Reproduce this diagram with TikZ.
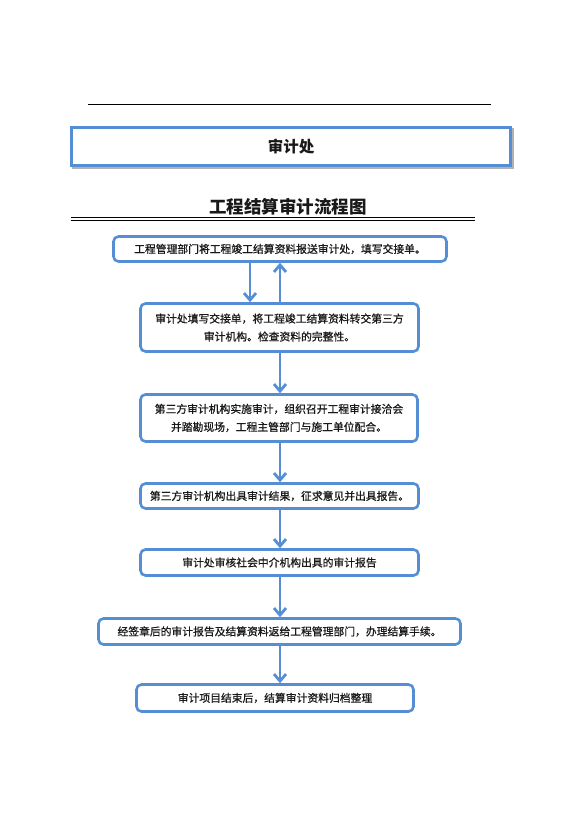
\documentclass[tikz,border=0pt]{standalone}
\usepackage{fontspec}
\newfontfamily\cjk{Noto Sans CJK SC}
\newfontfamily\cjkfb[FakeBold=0.8]{Noto Sans CJK SC}
\usetikzlibrary{arrows.meta}
\definecolor{boxblue}{RGB}{85,142,213}
\definecolor{txt}{RGB}{25,25,25}
\tikzset{
  flowbox/.style={draw=boxblue, line width=2.6pt, rounded corners=5pt, fill=white,
    inner sep=0pt, align=center, text=txt, font=\cjkfb\fontsize{10.8}{18}\selectfont},
  headbox/.style={draw=boxblue, line width=3pt, fill=white, inner sep=0pt,
    text=txt, font=\cjk\bfseries\fontsize{15.5}{18}\selectfont,
    preaction={draw=gray!60, line width=3pt, transform canvas={xshift=2pt,yshift=-2pt}}},
  arr/.style={draw=boxblue, line width=2.8pt, -{Straight Barb[length=7pt,width=12pt,line width=2.8pt]}},
  rule/.style={draw=black, line width=0.8pt}
}
\begin{document}
\begin{tikzpicture}[x=1pt,y=-1pt]
\useasboundingbox (0,0) rectangle (576,817);
% top rule
\coordinate (tl) at (88,104.3);
\coordinate (tr) at (491,104.3);
\draw[rule] (tl) -- (tr);
% header box
\node[headbox, minimum width=439pt, minimum height=38pt] (head) at (291,146.5) {审计处};
% title
\node[text=txt, font=\cjk\bfseries\fontsize{17.5}{20}\selectfont, inner sep=0pt] (title) at (288,207) {工程结算审计流程图};
\coordinate (d1l) at (71,217.7);
\coordinate (d1r) at (475,217.7);
\coordinate (d2l) at (71,220.5);
\coordinate (d2r) at (475,220.5);
\draw[rule, line width=0.7pt] (d1l) -- (d1r);
\draw[rule, line width=0.7pt] (d2l) -- (d2r);
% flow boxes
\node[flowbox, minimum width=333pt, minimum height=25pt] (b1) at (280,249) {工程管理部门将工程竣工结算资料报送审计处，填写交接单。};
\node[flowbox, minimum width=278pt, minimum height=48pt] (b2) at (279.5,327.5) {审计处填写交接单，将工程竣工结算资料转交第三方\\审计机构。检查资料的完整性。};
\node[flowbox, minimum width=277pt, minimum height=47pt] (b3) at (279,418) {第三方审计机构实施审计，组织召开工程审计接洽会\\并踏勘现场，工程主管部门与施工单位配合。};
\node[flowbox, minimum width=278pt, minimum height=25pt] (b4) at (279.5,496) {第三方审计机构出具审计结果，征求意见并出具报告。};
\node[flowbox, minimum width=278pt, minimum height=26pt] (b5) at (279.5,562.5) {审计处审核社会中介机构出具的审计报告};
\node[flowbox, minimum width=362pt, minimum height=26pt] (b6) at (279.5,631.5) {经签章后的审计报告及结算资料返给工程管理部门，办理结算手续。};
\node[flowbox, minimum width=277pt, minimum height=27pt] (b7) at (275,698) {审计项目结束后，结算审计资料归档整理};
% arrows
\coordinate (xd) at (250,0);
\coordinate (xu) at (280,0);
\draw[arr] (b1.south -| xd) -- (b2.north -| xd);
\draw[arr] (b2.north -| xu) -- (b1.south -| xu);
\draw[arr] (b2.south -| xu) -- (b3.north -| xu);
\draw[arr] (b3.south -| xu) -- (b4.north -| xu);
\draw[arr] (b4.south -| xu) -- (b5.north -| xu);
\draw[arr] (b5.south -| xu) -- (b6.north -| xu);
\draw[arr] (b6.south -| xu) -- (b7.north -| xu);
\end{tikzpicture}
\end{document}
